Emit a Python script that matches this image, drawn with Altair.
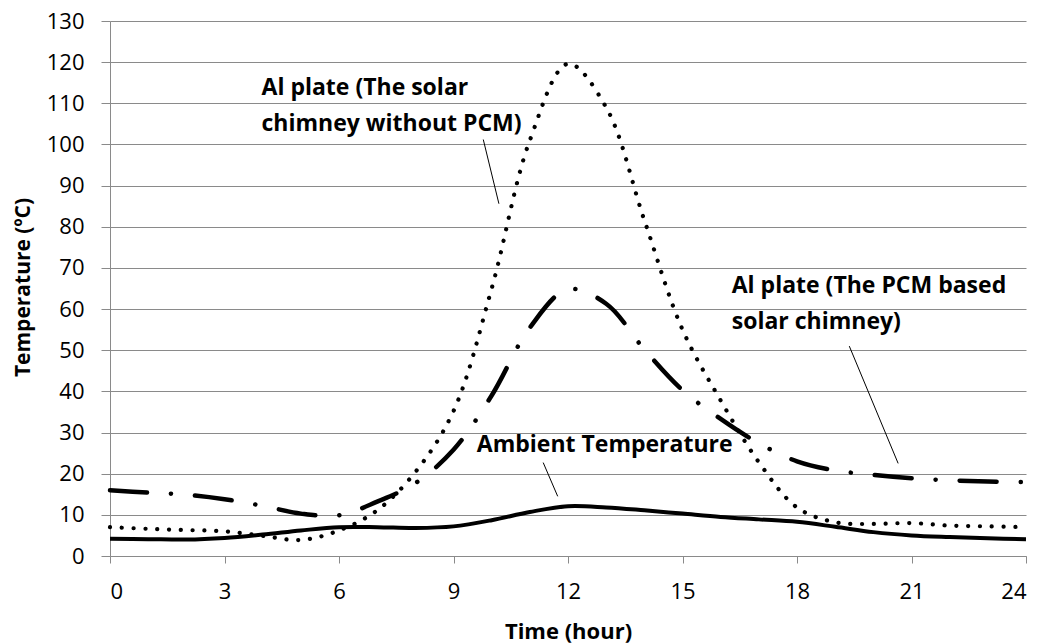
import altair as alt
import pandas as pd

# ---- data ----
hours = list(range(25))
ambient = [4.2, 4.1, 4.0, 4.4, 5.2, 6.2, 7.0, 7.0, 6.8, 7.2, 8.7, 10.7, 12.1,
           11.8, 11.1, 10.3, 9.5, 8.9, 8.3, 7.1, 5.8, 5.0, 4.6, 4.3, 4.1]
plate_no_pcm = [7.0, 6.6, 6.3, 6.0, 4.9, 3.9, 6.2, 11.1, 20.4, 35.2, 65.0, 101.0, 119.6,
                109.0, 81.6, 55.0, 37.8, 22.8, 11.8, 8.2, 7.8, 8.0, 7.4, 7.2, 7.0]
plate_pcm = [16.0, 15.4, 14.9, 13.8, 12.2, 10.3, 9.9, 13.2, 17.7, 25.8, 39.0, 55.5, 64.8,
             61.3, 50.2, 40.3, 33.3, 27.4, 23.0, 20.8, 19.7, 18.9, 18.4, 18.1, 18.0]

x_ticks = [0, 3, 6, 9, 12, 15, 18, 21, 24]
y_ticks = list(range(0, 131, 10))

label_text = ["Al plate (The solar", "chimney without PCM)",
              "Al plate (The PCM based", "solar chimney)",
              "Ambient Temperature"]
label_x = [3.97, 3.97, 16.29, 16.29, 9.61]
label_y = [112.1, 103.2, 63.8, 55.1, 25.3]

leader_x = [9.78, 19.37, 11.35]
leader_y = [101.2, 51.0, 22.7]
leader_x2 = [10.19, 20.65, 11.73]
leader_y2 = [85.6, 22.5, 14.5]

# ---- tables ----
long = pd.DataFrame({
    "hour": hours * 3,
    "temp": ambient + plate_no_pcm + plate_pcm,
    "series": ["ambient"] * 25 + ["nopcm"] * 25 + ["pcm"] * 25,
})
labels = pd.DataFrame({"x": label_x, "y": label_y, "text": label_text})
leaders = pd.DataFrame({"x": leader_x, "y": leader_y, "x2": leader_x2, "y2": leader_y2})

GRID = "#8a8a8a"
FONT = "Open Sans"

xscale = alt.Scale(domain=[0, 24], nice=False, zero=False)
yscale = alt.Scale(domain=[0, 130], nice=False)

x_enc = alt.X("hour:Q", scale=xscale,
              axis=alt.Axis(values=x_ticks, title="Time (hour)", grid=False,
                            tickSize=7, labelPadding=18, labelFontSize=22,
                            labelFont=FONT, labelColor="black",
                            titleFont=FONT, titleFontSize=22, titleFontWeight="bold",
                            titleColor="black", titleX=458, titleY=82,
                            titleBaseline="alphabetic", titleAlign="center",
                            domainColor=GRID, tickColor=GRID))
y_enc = alt.Y("temp:Q", scale=yscale,
              axis=alt.Axis(values=y_ticks, title="Temperature (ºC)", grid=True,
                            gridColor=GRID, gridWidth=1, tickSize=9, labelPadding=17,
                            labelFontSize=22, labelFont=FONT, labelColor="black",
                            titleFont=FONT, titleFontSize=21, titleFontWeight="bold",
                            titleColor="black", titleX=-87, titleY=266, titleAngle=-90,
                            titleBaseline="middle", titleAlign="center",
                            domainColor=GRID, tickColor=GRID))

base = alt.Chart(long)

dotted = base.transform_filter(alt.datum.series == "nopcm").mark_line(
    color="black", strokeWidth=4.2, strokeDash=[0.1, 11.7], strokeCap="round",
    interpolate="catmull-rom"
).encode(x=x_enc, y=y_enc)

dashdot = base.transform_filter(alt.datum.series == "pcm").mark_line(
    color="black", strokeWidth=4.5, strokeDash=[37, 24, 0.1, 24], strokeCap="round",
    interpolate="catmull-rom"
).encode(x="hour:Q", y="temp:Q")

solid = base.transform_filter(alt.datum.series == "ambient").mark_line(
    color="black", strokeWidth=4, interpolate="catmull-rom"
).encode(x="hour:Q", y="temp:Q")

rules = alt.Chart(leaders).mark_rule(color="black", strokeWidth=1).encode(
    x=alt.X("x:Q"), y=alt.Y("y:Q"), x2="x2:Q", y2="y2:Q")

texts = alt.Chart(labels).mark_text(
    align="left", baseline="alphabetic", font=FONT, fontWeight="bold",
    fontSize=23, color="black"
).encode(x=alt.X("x:Q"), y=alt.Y("y:Q"), text="text:N")

chart = alt.layer(dotted, dashdot, solid, rules, texts).properties(
    width=916, height=535,
    padding={"left": 110, "top": 21, "right": 16, "bottom": 87},
    autosize=alt.AutoSizeParams(type="none"),
    background="white",
).configure_view(stroke=None)

chart.save("out.html", embed_options={"renderer": "svg", "actions": False})
